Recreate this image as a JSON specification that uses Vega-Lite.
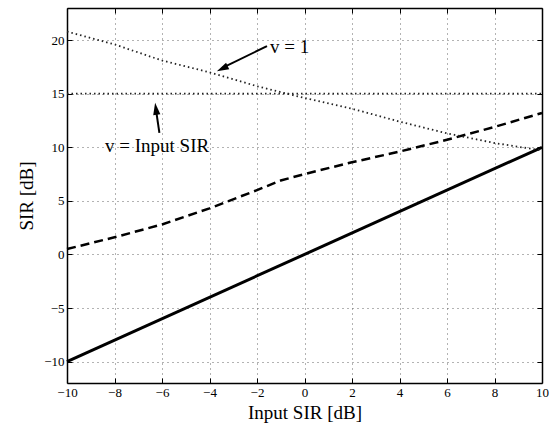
{
  "$schema": "https://vega.github.io/schema/vega-lite/v6.json",
  "width": 475,
  "height": 375,
  "autosize": {"type": "none"},
  "padding": {"left": 67, "top": 8, "right": 12, "bottom": 41},
  "background": "white",
  "config": {
    "view": {"stroke": null},
    "font": "Liberation Serif",
    "axis": {
      "labelFont": "Liberation Serif",
      "titleFont": "Liberation Serif",
      "labelFontSize": 13,
      "titleFontSize": 19,
      "titleFontWeight": "normal",
      "labelColor": "black",
      "titleColor": "black",
      "domainColor": "black",
      "domainWidth": 1.5,
      "tickColor": "black",
      "tickWidth": 1,
      "tickSize": -5,
      "labelFlush": false,
      "gridColor": "#666666",
      "gridDash": [1, 4],
      "gridWidth": 1,
      "gridOpacity": 1
    }
  },
  "datasets": {
    "solid": [{"x": -10, "y": -10}, {"x": 10, "y": 10}],
    "dashed": [
      {"x": -10, "y": 0.5}, {"x": -8, "y": 1.6}, {"x": -6, "y": 2.8}, {"x": -4, "y": 4.3},
      {"x": -2, "y": 6.0}, {"x": -1, "y": 6.9}, {"x": 0, "y": 7.5}, {"x": 2, "y": 8.6},
      {"x": 4, "y": 9.6}, {"x": 6, "y": 10.7}, {"x": 8, "y": 11.9}, {"x": 10, "y": 13.2}
    ],
    "sloped": [
      {"x": -10, "y": 20.8}, {"x": -8, "y": 19.6}, {"x": -6, "y": 18.1}, {"x": -4, "y": 17.0},
      {"x": -2, "y": 15.7}, {"x": 0, "y": 14.6}, {"x": 2, "y": 13.6}, {"x": 4, "y": 12.4},
      {"x": 6, "y": 11.3}, {"x": 8, "y": 10.4}, {"x": 10, "y": 9.7}
    ],
    "flat": [{"x": -10, "y": 15}, {"x": 10, "y": 15}],
    "labels": [
      {"x": -1.45, "y": 19.4, "label": "v = 1"},
      {"x": -8.4, "y": 10.1, "label": "v = Input SIR"}
    ],
    "arrow1": [{"x": -1.58, "y": 19.44, "x2": -3.46, "y2": 17.41}],
    "head1": [{"x": -3.69, "y": 17.1}],
    "arrow2": [{"x": -6.11, "y": 11.35, "x2": -6.26, "y2": 13.6}],
    "head2": [{"x": -6.29, "y": 14.15}]
  },
  "resolve": {"axis": {"x": "independent", "y": "independent"}},
  "layer": [
    {
      "data": {"name": "solid"},
      "mark": {"type": "line", "color": "black", "strokeWidth": 3},
      "encoding": {
        "x": {"field": "x", "type": "quantitative",
              "scale": {"domain": [-10, 10], "nice": false},
              "axis": {"orient": "bottom", "values": [-10, -8, -6, -4, -2, 0, 2, 4, 6, 8, 10],
                       "grid": true, "title": "Input SIR [dB]", "labelPadding": 8, "titlePadding": 4}},
        "y": {"field": "y", "type": "quantitative",
              "scale": {"domain": [-12, 23], "nice": false},
              "axis": {"orient": "left", "values": [-10, -5, 0, 5, 10, 15, 20],
                       "grid": true, "title": "SIR [dB]", "labelPadding": 8, "titlePadding": 7}}
      }
    },
    {
      "data": {"name": "dashed"},
      "mark": {"type": "line", "color": "black", "strokeWidth": 2.5, "strokeDash": [9, 5]},
      "encoding": {
        "x": {"field": "x", "type": "quantitative",
              "axis": {"orient": "top", "values": [-10, -8, -6, -4, -2, 0, 2, 4, 6, 8, 10],
                       "grid": false, "labels": false, "title": null}},
        "y": {"field": "y", "type": "quantitative",
              "axis": {"orient": "right", "values": [-10, -5, 0, 5, 10, 15, 20],
                       "grid": false, "labels": false, "title": null}}
      }
    },
    {
      "data": {"name": "sloped"},
      "mark": {"type": "line", "color": "#222222", "strokeWidth": 1.8, "strokeDash": [1.5, 3]},
      "encoding": {
        "x": {"field": "x", "type": "quantitative", "axis": null},
        "y": {"field": "y", "type": "quantitative", "axis": null}
      }
    },
    {
      "data": {"name": "flat"},
      "mark": {"type": "line", "color": "#222222", "strokeWidth": 1.8, "strokeDash": [1.5, 3]},
      "encoding": {
        "x": {"field": "x", "type": "quantitative", "axis": null},
        "y": {"field": "y", "type": "quantitative", "axis": null}
      }
    },
    {
      "data": {"name": "labels"},
      "mark": {"type": "text", "align": "left", "baseline": "middle", "font": "Liberation Serif", "fontSize": 19, "color": "black"},
      "encoding": {
        "x": {"field": "x", "type": "quantitative", "axis": null},
        "y": {"field": "y", "type": "quantitative", "axis": null},
        "text": {"field": "label"}
      }
    },
    {
      "data": {"name": "arrow1"},
      "mark": {"type": "rule", "color": "black", "strokeWidth": 2},
      "encoding": {
        "x": {"field": "x", "type": "quantitative", "axis": null},
        "y": {"field": "y", "type": "quantitative", "axis": null},
        "x2": {"field": "x2"},
        "y2": {"field": "y2"}
      }
    },
    {
      "data": {"name": "arrow2"},
      "mark": {"type": "rule", "color": "black", "strokeWidth": 2},
      "encoding": {
        "x": {"field": "x", "type": "quantitative", "axis": null},
        "y": {"field": "y", "type": "quantitative", "axis": null},
        "x2": {"field": "x2"},
        "y2": {"field": "y2"}
      }
    },
    {
      "data": {"name": "head1"},
      "mark": {"type": "point", "shape": "M0,0L-0.3,1L0.3,1Z", "filled": true, "color": "black", "opacity": 1, "size": 576, "angle": 244},
      "encoding": {
        "x": {"field": "x", "type": "quantitative", "axis": null},
        "y": {"field": "y", "type": "quantitative", "axis": null}
      }
    },
    {
      "data": {"name": "head2"},
      "mark": {"type": "point", "shape": "M0,0L-0.3,1L0.3,1Z", "filled": true, "color": "black", "opacity": 1, "size": 576, "angle": 352},
      "encoding": {
        "x": {"field": "x", "type": "quantitative", "axis": null},
        "y": {"field": "y", "type": "quantitative", "axis": null}
      }
    }
  ]
}
